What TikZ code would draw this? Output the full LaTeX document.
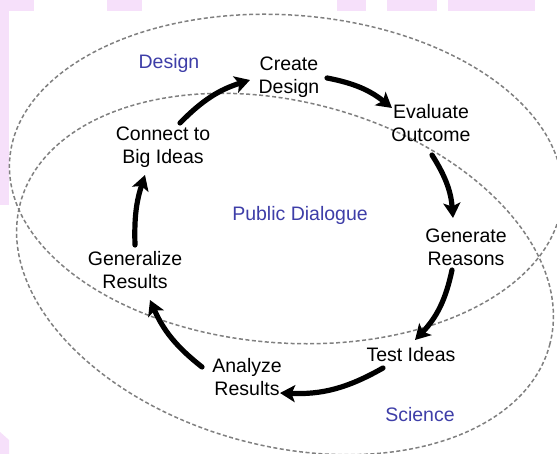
\documentclass[tikz,border=0pt]{standalone}
\usepackage{fontspec}
\setmainfont{Liberation Sans}
\usetikzlibrary{arrows.meta}
\definecolor{lblblue}{RGB}{62,62,168}
\definecolor{ringgray}{RGB}{128,128,128}
\definecolor{wmpink}{RGB}{246,224,250}
\begin{document}
\begin{tikzpicture}[x=1pt,y=-1pt,
  txt/.style={font=\fontsize{19.5}{23}\selectfont, align=center, inner sep=0pt},
  lbl/.style={txt, text=lblblue},
  flow/.style={line width=5.2pt, line cap=round, -{Stealth[length=15pt,width=17pt,inset=3.5pt]}},
  ring/.style={draw=ringgray, line width=1.5pt, dash pattern=on 4pt off 2.5pt}]
\useasboundingbox (0,0) rectangle (557,454);
\fill[white] (0,0) rectangle (557,454);
% faint watermark bands
\fill[wmpink] (0,0) rectangle (34,11);
\fill[wmpink] (107,0) rectangle (142,11);
\fill[wmpink] (337,0) rectangle (366,11);
\fill[wmpink] (387,0) rectangle (437,11);
\fill[wmpink] (448,0) rectangle (535,11);
\fill[wmpink] (0,0) rectangle (9,205);
\fill[wmpink] (0,432) -- (9,440) -- (9,454) -- (0,454) -- cycle;
% ellipses
\draw[ring, rotate around={-4:(286,179)}] (286,179) ellipse [x radius=277pt, y radius=164pt];
\draw[ring, rotate around={-15:(285,274)}] (285,274) ellipse [x radius=274pt, y radius=172pt];
% region labels
\node[lbl] (design) at (169,63) {Design};
\node[lbl] (public) at (300,215) {Public Dialogue};
\node[lbl] (science) at (420,415) {Science};
% steps
\node[txt] (create) at (289,77) {Create\\Design};
\node[txt] (evaluate) at (431,123) {Evaluate\\Outcome};
\node[txt] (generate) at (466,247) {Generate\\Reasons};
\node[txt] (test) at (411,355) {Test Ideas};
\node[txt] (analyze) at (247,377) {Analyze\\Results};
\node[txt] (generalize) at (135,270) {Generalize\\Results};
\node[txt] (connect) at (163,147) {Connect to\\Big Ideas};
% cycle arrows
\draw[flow] ([shift={(0,-25)}]generalize.center) to[bend left=10] ([shift={(-18,28)}]connect.center);
\draw[flow] ([shift={(17,-24)}]connect.center) to[bend left=14] ([shift={(-39,3)}]create.center);
\draw[flow] ([shift={(38,1)}]create.center) to[bend left=14] ([shift={(-39,-15)}]evaluate.center);
\draw[flow] ([shift={(1,32)}]evaluate.center) to[bend left=14] ([shift={(-13,-29)}]generate.center);
\draw[flow] ([shift={(-14,23)}]generate.center) to[bend left=16] ([shift={(4,-15)}]test.center);
\draw[flow] ([shift={(-28,13)}]test.center) to[bend left=16] ([shift={(33,16)}]analyze.center);
\draw[flow] ([shift={(-45,-10)}]analyze.center) to[bend left=14] ([shift={(15,30)}]generalize.center);
\end{tikzpicture}
\end{document}
